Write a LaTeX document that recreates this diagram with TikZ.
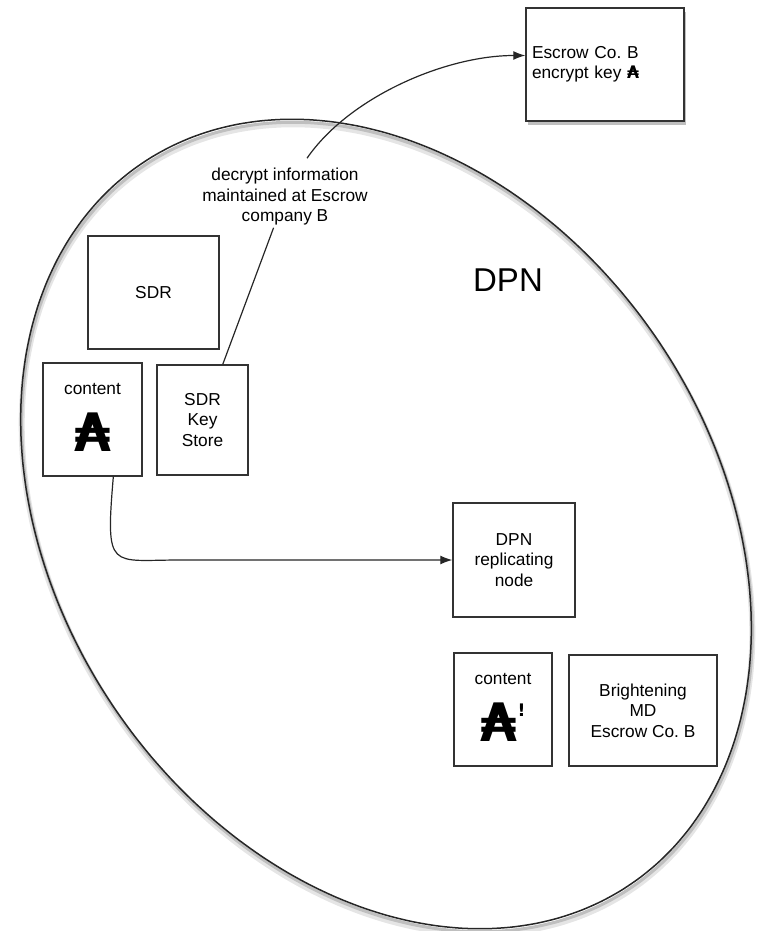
\documentclass[tikz,border=0pt]{standalone}
\usepackage{fontspec}
\setmainfont{Liberation Sans}
\newfontfamily\austral{DejaVu Sans}
\usetikzlibrary{positioning,arrows.meta,shadows}

\newcommand{\lblfont}{\fontsize{17.3}{20.5}\selectfont}
\newcommand{\bigfont}{\fontsize{33}{36}\selectfont}
\newcommand{\symfont}{\austral\bfseries\fontsize{53}{53}\selectfont}
% tilted DPN outline, written in picture coordinates
\newcommand{\dpnrim}{plot[variable=\t, domain=0:356, samples=90, smooth cycle]
  ({386+271*cos(\t)-245*sin(\t)}, {524-185*cos(\t)-360*sin(\t)})}

\begin{document}
\begin{tikzpicture}[
    x=1pt, y=-1pt,
    box/.style={draw=black!80, line width=1.4pt, fill=white, align=center, font=\lblfont, inner sep=0pt},
    conn/.style={draw=black!85, line width=1.2pt},
    tip/.style={-{Latex[length=12pt, width=9pt]}},
    rim/.style={draw=black!85, line width=1.5pt}
]
\useasboundingbox (0,0) rectangle (756,931);

% DPN boundary with its soft shadow
\draw[black!10, line width=6pt, shift={(1,5)}] \dpnrim;
\draw[black!25, line width=3pt, shift={(1,3)}] \dpnrim;
\draw[rim] \dpnrim;

% Define node positions
\node[box, text width=146pt, inner xsep=6pt, minimum height=113pt, align=left,
      drop shadow={shadow xshift=2pt, shadow yshift=-4pt, opacity=0.5}] (escrow) at (605,64.5)
      {Escrow Co.\ B\\encrypt key {\austral\bfseries ₳}};
\node[box, minimum width=131pt, minimum height=113pt] (sdr) at (153.5,292.5) {SDR};
\node[box, minimum width=99pt, minimum height=113pt] (content) at (92.5,419.5) {};
\node[box, minimum width=91pt, minimum height=110pt] (keystore) at (202.5,420) {SDR\\Key\\Store};
\node[box, minimum width=122pt, minimum height=114pt] (repl) at (514,560) {DPN\\replicating\\node};
\node[box, minimum width=98pt, minimum height=113pt] (content2) at (503,709.5) {};
\node[box, minimum width=148pt, minimum height=111pt] (bright) at (643,710.5) {Brightening\\MD\\Escrow Co.\ B};

% Texts inside and around the boxes
\node[font=\bigfont] (dpn) at (508,280) {DPN};
\node[font=\lblfont, align=center, inner sep=2pt] (decrypt) at (285,197)
      {decrypt information\\maintained at Escrow\\company B};
\node[font=\lblfont] (contentlbl) at (92.5,389) {content};
\node[font=\symfont] (contentsym) at (92.5,432) {₳};
\node[font=\lblfont] (content2lbl) at (503,679) {content};
\node[font=\symfont] (content2sym) at (503,722) {₳\raisebox{25pt}{\lblfont\bfseries !}};

% Connectors
\coordinate (bend) at (180,560);
\draw[conn] (keystore.70) -- (decrypt);
\draw[conn, tip] ([shift={(22,-8)}]decrypt.north) .. controls +(42,-61) and +(-80,0) .. ([yshift=9pt]escrow.west);
\draw[conn, tip] (content.-70) .. controls +(-8,95) and +(-70,0) .. (bend) -- (repl.west);

\end{tikzpicture}
\end{document}
